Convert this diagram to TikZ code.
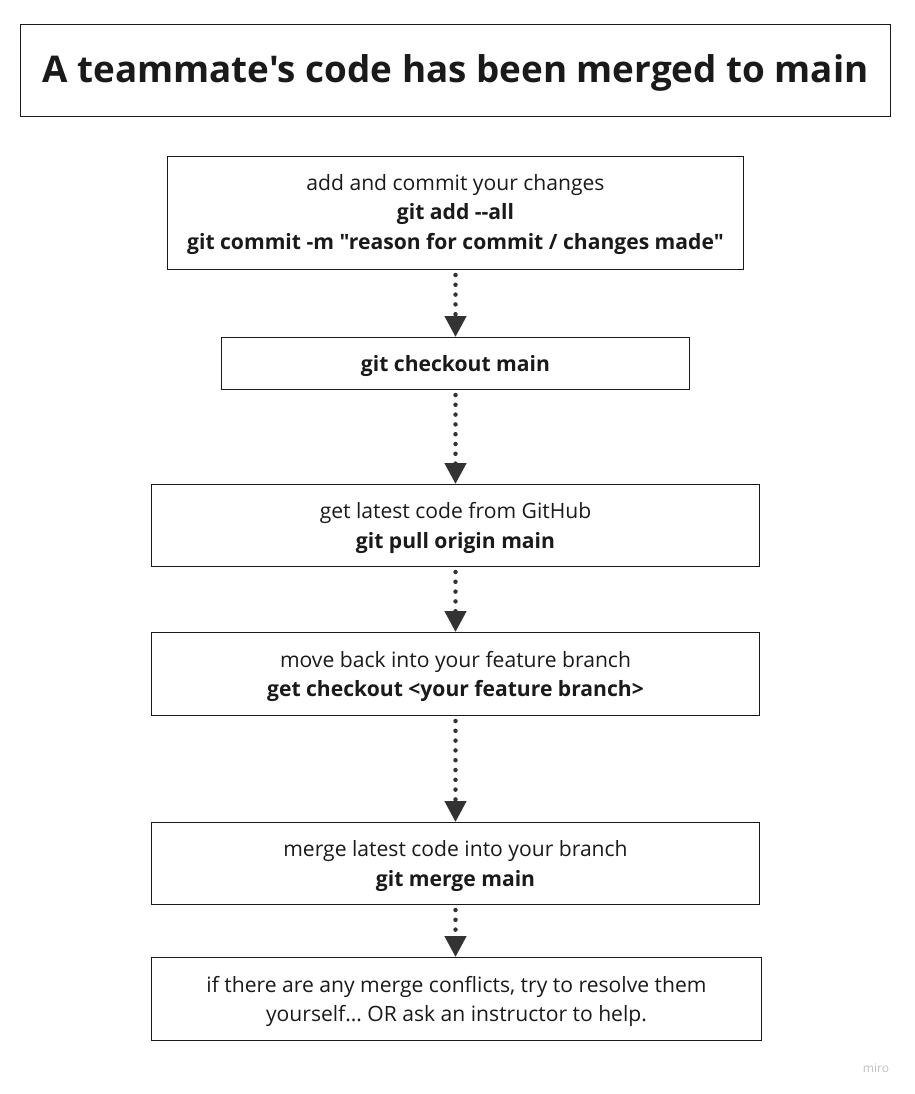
\documentclass[tikz,border=0pt]{standalone}
\usepackage{fontspec}
\setmainfont{Open Sans}[Ligatures=TeXOff]
\usetikzlibrary{arrows.meta}
\definecolor{ink}{HTML}{1A1A1A}
\definecolor{arr}{HTML}{333333}
\frenchspacing
\tikzset{
  box/.style={draw=ink, line width=1pt, fill=white, inner sep=0pt, anchor=north west},
  txt/.style={font=\fontsize{21.1}{29.5}\selectfont, align=center, text=ink, yshift=-2.5pt},
  flow/.style={draw=arr, line width=4.5pt, line cap=round, dash pattern=on 0pt off 9.8pt,
    -{Triangle[width=21pt,length=21pt,line cap=butt,fill=arr]}, shorten <=5pt}
}
\begin{document}
\begin{tikzpicture}[x=1pt,y=-1pt]
\useasboundingbox (0,0) rectangle (914,1094);
% title
\node[box, minimum width=870pt, minimum height=92pt] (title) at (20,24) {};
\node[font=\fontsize{36.8}{42}\bfseries\selectfont, text=ink, yshift=-2pt] (tt) at (title.center) {A teammate's code has been merged to main};
% boxes
\node[box, minimum width=576pt, minimum height=113pt] (b1) at (167,156) {};
\node[txt] (t1) at ([yshift=1pt]b1.center) {add and commit your changes\\\textbf{git add --all}\\\textbf{git commit -m "reason for commit / changes made"}};
\node[box, minimum width=468pt, minimum height=52pt] (b2) at (221,337) {};
\node[txt] (t2) at (b2.center) {\textbf{git checkout main}};
\node[box, minimum width=608pt, minimum height=82pt] (b3) at (151,484) {};
\node[txt] (t3) at (b3.center) {get latest code from GitHub\\\textbf{git pull origin main}};
\node[box, minimum width=608pt, minimum height=83pt] (b4) at (151,632) {};
\node[txt] (t4) at (b4.center) {move back into your feature branch\\\textbf{get checkout <your feature branch>}};
\node[box, minimum width=608pt, minimum height=82pt] (b5) at (151,822) {};
\node[txt] (t5) at (b5.center) {merge latest code into your branch\\\textbf{git merge main}};
\node[box, minimum width=610pt, minimum height=83pt] (b6) at (151,957) {};
\node[txt] (t6) at (b6.center) {if there are any merge conflicts, try to resolve them\\yourself… OR ask an instructor to help.};
% arrows
\draw[flow] (b1.south) -- (b2.north);
\draw[flow] (b2.south) -- (b3.north);
\draw[flow] (b3.south) -- (b4.north);
\draw[flow] (b4.south) -- (b5.north);
\draw[flow] (b5.south) -- (b6.north -| b5.south);
% watermark
\node[font=\fontsize{12}{14}\selectfont, text=black!25] (wm) at (876,1068) {miro};
\end{tikzpicture}
\end{document}
